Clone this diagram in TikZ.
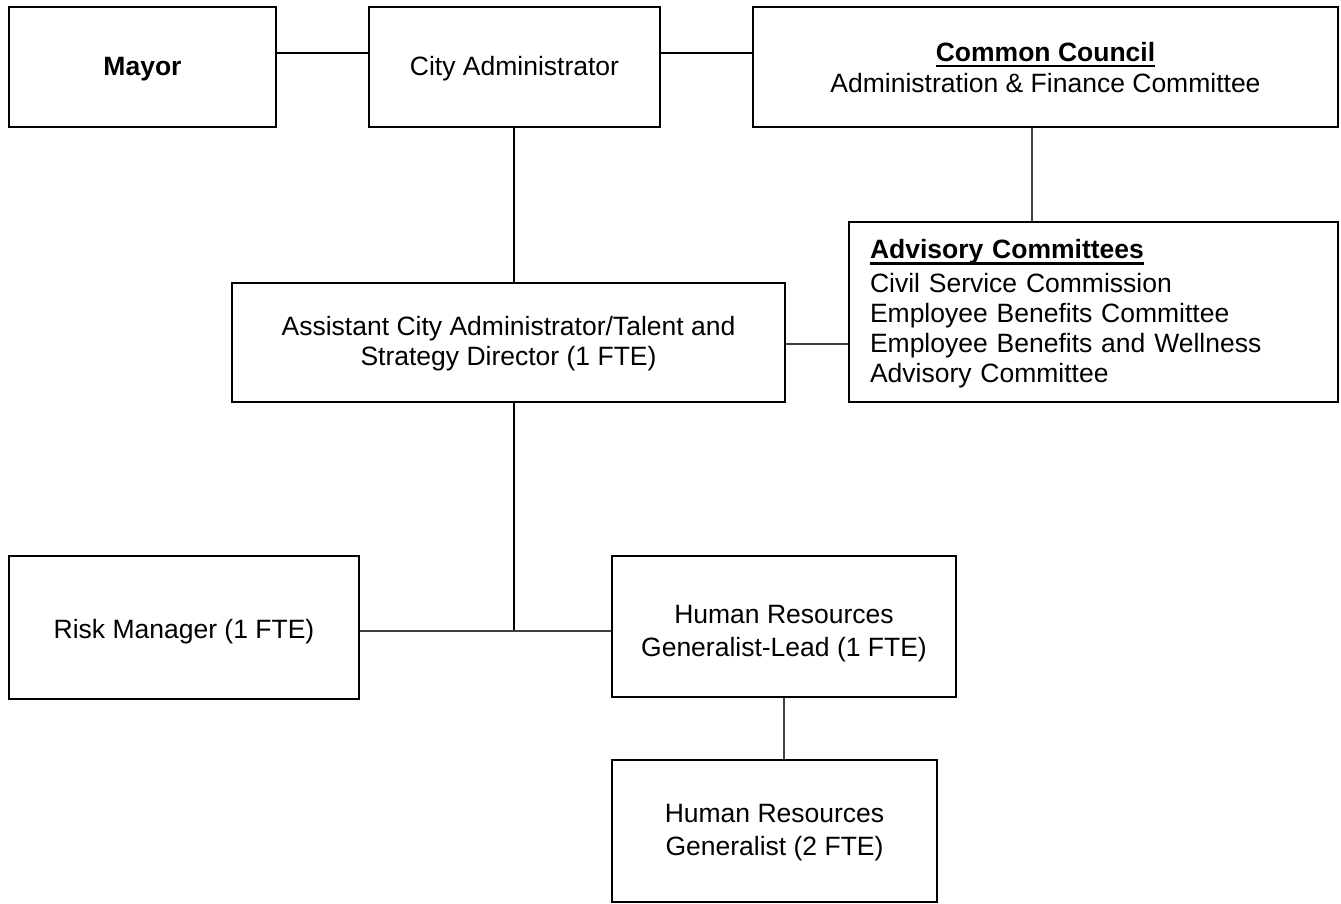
\documentclass[tikz,border=0pt]{standalone}
\usepackage{fontspec}
\setmainfont{Liberation Sans}
\newcommand\myul[1]{\setbox0\hbox{#1}\rlap{\rule[-6pt]{\wd0}{2.2pt}}\box0}
\newcommand\sx[1][0pt]{\rule[-3pt]{0pt}{\dimexpr25pt+#1\relax}}
\begin{document}
\begin{tikzpicture}[x=1pt,y=-1pt,
  box/.style={draw=black,line width=2.2pt,rectangle,inner sep=0pt,align=center,
    font=\fontsize{26.5}{31}\selectfont},
  thick line/.style={line width=2pt,draw=black},
  thin line/.style={line width=1.3pt,draw=black!75}]
\useasboundingbox[fill=white] (0,0) rectangle (1341,903);
\node[box,minimum width=267pt,minimum height=120pt] (mayor) at (142.5,67) {\sx\textbf{Mayor}};
\node[box,minimum width=291pt,minimum height=120pt] (ca) at (514.5,67) {\sx City Administrator};
\node[box,minimum width=585pt,minimum height=120pt] (council) at (1045.5,67) {\sx\textbf{\myul{Common Council}}\\\sx Administration \& Finance Committee};
\node[box,minimum width=489pt,minimum height=180pt,text width=447pt,align=left,inner xsep=21pt,
  font=\fontsize{26.5}{30}\selectfont] (adv) at (1093.5,312) {\sx\textbf{\myul{Advisory Committees}}\\[3.5pt]Civil Service Commission\\Employee Benefits Committee\\Employee Benefits and Wellness\\Advisory Committee\sx};
\node[box,minimum width=553pt,minimum height=119pt,font=\fontsize{26.5}{30}\selectfont] (asst) at (508.5,342.5) {\sx Assistant City Administrator/Talent and\\\sx Strategy Director (1 FTE)};
\node[box,minimum width=350pt,minimum height=143pt] (risk) at (184,627.5) {\sx[6pt]Risk Manager (1 FTE)};
\node[box,minimum width=344pt,minimum height=141pt,font=\fontsize{26.5}{33}\selectfont] (hrlead) at (784,626.5) {\sx[11pt]Human Resources\\\sx Generalist-Lead (1 FTE)};
\node[box,minimum width=325pt,minimum height=142pt,font=\fontsize{26.5}{33}\selectfont] (hrgen) at (774.5,831) {\sx Human Resources\\\sx Generalist (2 FTE)};
\coordinate (toprow) at (0,53);
\coordinate (councildown) at (1032,0);
\coordinate (junction) at (514,631);
\draw[thick line] (mayor.east |- toprow) -- (ca.west |- toprow);
\draw[thick line] (ca.east |- toprow) -- (council.west |- toprow);
\draw[thick line] (ca.south -| junction) -- (asst.north -| junction);
\draw[thin line] (council.south -| councildown) -- (adv.north -| councildown);
\draw[thin line] (asst.east |- 0,344) -- (adv.west |- 0,344);
\draw[thick line] (asst.south -| junction) -- (junction);
\draw[thin line] (risk.east |- junction) -- (hrlead.west |- junction);
\draw[thin line] (hrlead.south -| 784,0) -- (hrgen.north -| 784,0);
\end{tikzpicture}
\end{document}
